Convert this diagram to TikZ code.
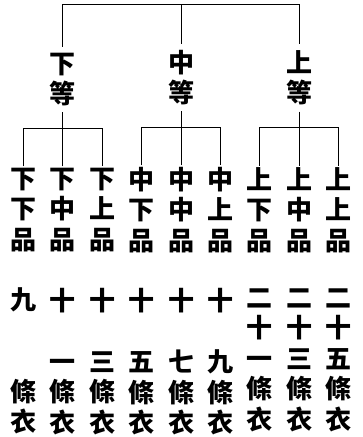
\documentclass[tikz,border=0pt]{standalone}
\usepackage{fontspec}
\newfontfamily\cjk{Noto Sans CJK TC}
\usetikzlibrary{positioning,calc}

\begin{document}
\begin{tikzpicture}[
    x=1pt, y=-1pt,
    hanzi/.style={font=\cjk\bfseries\fontsize{26}{30.5}\selectfont, align=center, inner xsep=0pt},
    group/.style={hanzi, inner ysep=10pt},
    leaf/.style={hanzi, inner ysep=5.5pt},
    robes/.style={hanzi, inner ysep=0pt},
    branch/.style={line width=1pt},
    stem/.style={branch, shorten <=-4pt},
    span/.style={branch, shorten <=-4pt, shorten >=-4pt}
]
    \useasboundingbox (0,0) rectangle (363,437);

    % nine grades of robe, with the number of strips
    \foreach \grade/\strips [count=\i] in {
        {下\\下\\品}/{九\\\phantom{十}\\\phantom{十}},
        {下\\中\\品}/{十\\\phantom{十}\\一},
        {下\\上\\品}/{十\\\phantom{十}\\三},
        {中\\下\\品}/{十\\\phantom{十}\\五},
        {中\\中\\品}/{十\\\phantom{十}\\七},
        {中\\上\\品}/{十\\\phantom{十}\\九},
        {上\\下\\品}/{二\\十\\一},
        {上\\中\\品}/{二\\十\\三},
        {上\\上\\品}/{二\\十\\五}} {
        \node[leaf] (leaf\i) at ({23.5+39.4*(\i-1)},210) {\grade};
        \node[robes, below=30pt of leaf\i] (robes\i) {\strips\\條\\衣};
    }

    % three classes
    \node[group, above=46pt of leaf2] (xia) {下\\等};
    \node[group, above=46pt of leaf5] (zhong) {中\\等};
    \node[group, above=46pt of leaf8] (shang) {上\\等};

    \coordinate[above=35pt of zhong] (apex);
    \draw[span] (xia.north) |- (apex) -| (shang.north);
    \draw[stem] (zhong.north) -- (apex);

    \foreach \cls/\a/\b/\c in {xia/1/2/3, zhong/4/5/6, shang/7/8/9} {
        \coordinate[below=12pt of \cls] (\cls-fork);
        \draw[stem] (\cls.south) -- (\cls-fork);
        \draw[span] (leaf\a.north) |- (\cls-fork) -| (leaf\c.north);
        \draw[stem] (leaf\b.north) -- (\cls-fork);
    }
\end{tikzpicture}
\end{document}
